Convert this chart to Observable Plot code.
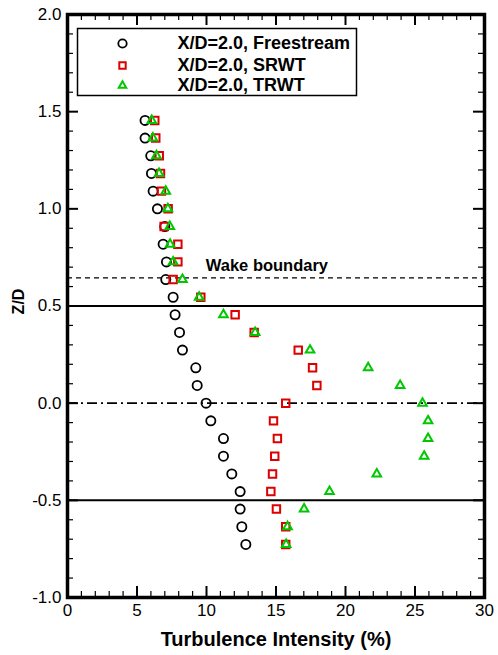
<!DOCTYPE html>
<html><head><meta charset="utf-8">
<script src="https://cdn.jsdelivr.net/npm/d3@7"></script>
<script src="https://cdn.jsdelivr.net/npm/@observablehq/plot@0.6"></script>
<style>body{margin:0;background:#fff}</style>
</head><body><div id="chart"></div>
<script>
// Z/D levels (shared by all series)
const zD = [1.455, 1.364, 1.273, 1.182, 1.091, 1.0, 0.909, 0.818, 0.727, 0.636, 0.545, 0.455, 0.364, 0.273, 0.182, 0.091, 0, -0.091, -0.182, -0.273, -0.364, -0.455, -0.545, -0.636, -0.727];
// Turbulence intensity (%)
const freestream = [5.58, 5.58, 5.99, 6.04, 6.16, 6.47, 7.0, 6.88, 7.12, 7.07, 7.6, 7.74, 8.06, 8.27, 9.23, 9.33, 9.97, 10.31, 11.22, 11.22, 11.82, 12.42, 12.42, 12.54, 12.83];
const srwt = [6.28, 6.35, 6.6, 6.69, 6.76, 7.24, 6.95, 7.94, 7.94, 7.6, 9.59, 12.06, 13.43, 16.6, 17.63, 17.94, 15.7, 14.82, 15.1, 14.91, 14.75, 14.63, 15.03, 15.7, 15.7];
const trwt = [6.06, 6.14, 6.4, 6.59, 7.07, 7.22, 7.36, 7.38, 7.6, 8.27, 9.47, 11.22, 13.5, 17.45, 21.63, 23.93, 25.54, 25.94, 25.94, 25.66, 22.25, 18.85, 17.02, 15.83, 15.73];
const seriesNames = ["X/D=2.0, Freestream", "X/D=2.0, SRWT", "X/D=2.0, TRWT"];

const xMajorTicks = [0, 5, 10, 15, 20, 25, 30];
const xMinorTicks = [1,2,3,4,6,7,8,9,11,12,13,14,16,17,18,19,21,22,23,24,26,27,28,29];
const yMajorTicks = [-1.0, -0.5, 0.0, 0.5, 1.0, 1.5, 2.0];
const yMinorTicks = [-0.9,-0.8,-0.7,-0.6,-0.4,-0.3,-0.2,-0.1,0.1,0.2,0.3,0.4,0.6,0.7,0.8,0.9,1.1,1.2,1.3,1.4,1.6,1.7,1.8,1.9];

const shearLayerLines = [0.5, -0.5];
const centerLine = [0];
const wakeBoundaryLine = [0.645];
const annotations = [{x: 9.95, y: 0.707, text: "Wake boundary"}];

const RED = "#dd0000", GREEN = "#00c800";
const W = 498, H = 655, ML = 67, MR = 14, MT = 14, MB = 58;
const FW = W - ML - MR, FH = H - MT - MB;

const rows = (vals) => zD.map((z, i) => ({z, v: vals[i]}));
const legendText = (name, dy) => Plot.text([name], {frameAnchor: "top-left", dx: 110, dy, text: d => d, textAnchor: "start", lineAnchor: "middle", fontWeight: "bold", fontSize: 18, fill: "black"});

const chart = Plot.plot({
  width: W, height: H,
  marginLeft: ML, marginRight: MR, marginTop: MT, marginBottom: MB,
  style: {fontFamily: "'Liberation Sans', Arial, sans-serif", background: "white", color: "black"},
  x: {domain: [0, 30]},
  y: {domain: [-1, 2]},
  marks: [
    Plot.ruleY(shearLayerLines, {y: d => d, stroke: "black", strokeWidth: 2}),
    Plot.ruleY(centerLine, {y: d => d, stroke: "black", strokeWidth: 1.8, strokeDasharray: "10,4,2,4"}),
    Plot.ruleY(wakeBoundaryLine, {y: d => d, stroke: "black", strokeWidth: 1.2, strokeDasharray: "5,4"}),
    Plot.text(annotations, {x: "x", y: "y", text: "text", textAnchor: "start", lineAnchor: "middle", fontWeight: "bold", fontSize: 16.5, fill: "black"}),
    // ticks (inward)
    Plot.tickX(xMajorTicks, {x: d => d, insetTop: FH - 11, stroke: "black", strokeWidth: 2}),
    Plot.tickX(xMajorTicks, {x: d => d, insetBottom: FH - 11, stroke: "black", strokeWidth: 2}),
    Plot.tickX(xMinorTicks, {x: d => d, insetTop: FH - 6, stroke: "black", strokeWidth: 1.2}),
    Plot.tickX(xMinorTicks, {x: d => d, insetBottom: FH - 6, stroke: "black", strokeWidth: 1.2}),
    Plot.tickY(yMajorTicks, {y: d => d, insetRight: FW - 11, stroke: "black", strokeWidth: 2}),
    Plot.tickY(yMajorTicks, {y: d => d, insetLeft: FW - 11, stroke: "black", strokeWidth: 2}),
    Plot.tickY(yMinorTicks, {y: d => d, insetRight: FW - 6, stroke: "black", strokeWidth: 1.2}),
    Plot.tickY(yMinorTicks, {y: d => d, insetLeft: FW - 6, stroke: "black", strokeWidth: 1.2}),
    Plot.axisX({ticks: xMajorTicks, tickSize: 0, tickPadding: 6, fontSize: 17, label: null, tickFormat: d => String(d)}),
    Plot.axisY({ticks: yMajorTicks, tickSize: 0, tickPadding: 6, fontSize: 17, label: null, tickFormat: d => d.toFixed(1)}),
    // data
    Plot.dot(rows(freestream), {x: "v", y: "z", symbol: "circle", r: 4.6, stroke: "black", strokeWidth: 1.8, fill: "none"}),
    Plot.dot(rows(srwt), {x: "v", y: "z", symbol: "square", r: 4.2, stroke: RED, strokeWidth: 2, fill: "none"}),
    Plot.dot(rows(trwt), {x: "v", y: "z", symbol: "triangle", r: 3.2, stroke: GREEN, strokeWidth: 2, fill: "none"}),
    // legend
    Plot.frame({insetLeft: 10, insetTop: 14, insetRight: 128, insetBottom: 502, stroke: "black", strokeWidth: 1.5, fill: "white"}),
    Plot.dot([seriesNames[0]], {frameAnchor: "top-left", dx: 55, dy: 29, symbol: "circle", r: 4.2, stroke: "black", strokeWidth: 1.8, fill: "none"}),
    Plot.dot([seriesNames[1]], {frameAnchor: "top-left", dx: 55, dy: 51, symbol: "square", r: 3.6, stroke: RED, strokeWidth: 2, fill: "none"}),
    Plot.dot([seriesNames[2]], {frameAnchor: "top-left", dx: 55, dy: 71, symbol: "triangle", r: 2.8, stroke: GREEN, strokeWidth: 2, fill: "none"}),
    legendText(seriesNames[0], 29),
    legendText(seriesNames[1], 51),
    legendText(seriesNames[2], 71),
    // axis titles
    Plot.text(["Turbulence Intensity (%)"], {frameAnchor: "bottom", dy: 42, text: d => d, lineAnchor: "middle", textAnchor: "middle", fontWeight: "bold", fontSize: 20, fill: "black"}),
    Plot.text(["Z/D"], {frameAnchor: "left", dx: -48.5, dy: -4.5, rotate: -90, text: d => d, textAnchor: "middle", lineAnchor: "middle", fontWeight: "bold", fontSize: 16, fill: "black"}),
    Plot.frame({stroke: "black", strokeWidth: 3.5})
  ]
});
document.getElementById("chart").appendChild(chart);
</script>
</body></html>
